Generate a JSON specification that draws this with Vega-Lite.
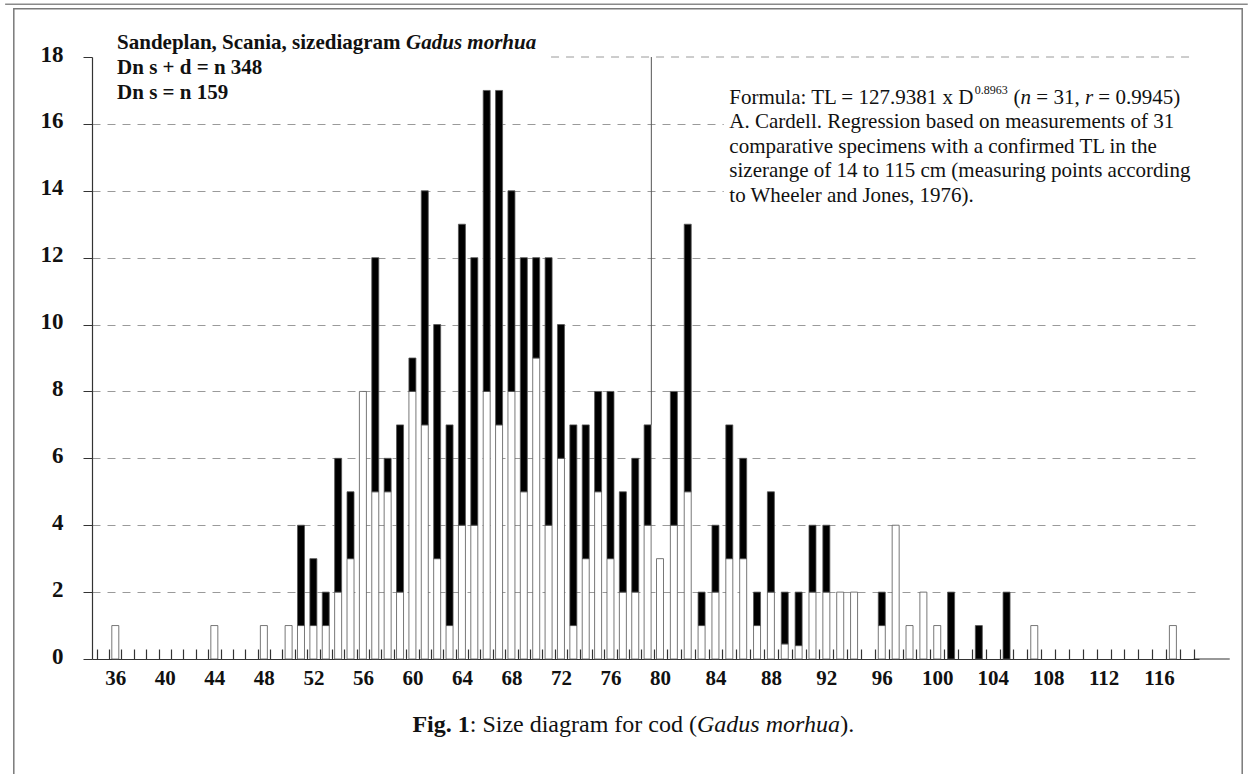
{
  "$schema": "https://vega.github.io/schema/vega-lite/v6.json",
  "width": 1107,
  "height": 602,
  "autosize": {"type": "none"},
  "padding": {"left": 92, "top": 57, "right": 53, "bottom": 115},
  "background": "white",
  "config": {"view": {"stroke": null}, "font": "Liberation Serif"},
  "datasets": {
    "cod": [
      {"size": 36, "type": "s", "count": 1},
      {"size": 44, "type": "s", "count": 1},
      {"size": 48, "type": "s", "count": 1},
      {"size": 50, "type": "s", "count": 1},
      {"size": 51, "type": "s", "count": 1}, {"size": 51, "type": "d", "count": 3},
      {"size": 52, "type": "s", "count": 1}, {"size": 52, "type": "d", "count": 2},
      {"size": 53, "type": "s", "count": 1}, {"size": 53, "type": "d", "count": 1},
      {"size": 54, "type": "s", "count": 2}, {"size": 54, "type": "d", "count": 4},
      {"size": 55, "type": "s", "count": 3}, {"size": 55, "type": "d", "count": 2},
      {"size": 56, "type": "s", "count": 8},
      {"size": 57, "type": "s", "count": 5}, {"size": 57, "type": "d", "count": 7},
      {"size": 58, "type": "s", "count": 5}, {"size": 58, "type": "d", "count": 1},
      {"size": 59, "type": "s", "count": 2}, {"size": 59, "type": "d", "count": 5},
      {"size": 60, "type": "s", "count": 8}, {"size": 60, "type": "d", "count": 1},
      {"size": 61, "type": "s", "count": 7}, {"size": 61, "type": "d", "count": 7},
      {"size": 62, "type": "s", "count": 3}, {"size": 62, "type": "d", "count": 7},
      {"size": 63, "type": "s", "count": 1}, {"size": 63, "type": "d", "count": 6},
      {"size": 64, "type": "s", "count": 4}, {"size": 64, "type": "d", "count": 9},
      {"size": 65, "type": "s", "count": 4}, {"size": 65, "type": "d", "count": 8},
      {"size": 66, "type": "s", "count": 8}, {"size": 66, "type": "d", "count": 9},
      {"size": 67, "type": "s", "count": 7}, {"size": 67, "type": "d", "count": 10},
      {"size": 68, "type": "s", "count": 8}, {"size": 68, "type": "d", "count": 6},
      {"size": 69, "type": "s", "count": 5}, {"size": 69, "type": "d", "count": 7},
      {"size": 70, "type": "s", "count": 9}, {"size": 70, "type": "d", "count": 3},
      {"size": 71, "type": "s", "count": 4}, {"size": 71, "type": "d", "count": 8},
      {"size": 72, "type": "s", "count": 6}, {"size": 72, "type": "d", "count": 4},
      {"size": 73, "type": "s", "count": 1}, {"size": 73, "type": "d", "count": 6},
      {"size": 74, "type": "s", "count": 3}, {"size": 74, "type": "d", "count": 4},
      {"size": 75, "type": "s", "count": 5}, {"size": 75, "type": "d", "count": 3},
      {"size": 76, "type": "s", "count": 3}, {"size": 76, "type": "d", "count": 5},
      {"size": 77, "type": "s", "count": 2}, {"size": 77, "type": "d", "count": 3},
      {"size": 78, "type": "s", "count": 2}, {"size": 78, "type": "d", "count": 4},
      {"size": 79, "type": "s", "count": 4}, {"size": 79, "type": "d", "count": 3},
      {"size": 80, "type": "s", "count": 3},
      {"size": 81, "type": "s", "count": 4}, {"size": 81, "type": "d", "count": 4},
      {"size": 82, "type": "s", "count": 5}, {"size": 82, "type": "d", "count": 8},
      {"size": 83, "type": "s", "count": 1}, {"size": 83, "type": "d", "count": 1},
      {"size": 84, "type": "s", "count": 2}, {"size": 84, "type": "d", "count": 2},
      {"size": 85, "type": "s", "count": 3}, {"size": 85, "type": "d", "count": 4},
      {"size": 86, "type": "s", "count": 3}, {"size": 86, "type": "d", "count": 3},
      {"size": 87, "type": "s", "count": 1}, {"size": 87, "type": "d", "count": 1},
      {"size": 88, "type": "s", "count": 2}, {"size": 88, "type": "d", "count": 3},
      {"size": 89, "type": "s", "count": 0.45}, {"size": 89, "type": "d", "count": 1.55},
      {"size": 90, "type": "s", "count": 0.4}, {"size": 90, "type": "d", "count": 1.6},
      {"size": 91, "type": "s", "count": 2}, {"size": 91, "type": "d", "count": 2},
      {"size": 92, "type": "s", "count": 2}, {"size": 92, "type": "d", "count": 2},
      {"size": 93, "type": "s", "count": 2},
      {"size": 94, "type": "s", "count": 2},
      {"size": 96, "type": "s", "count": 1}, {"size": 96, "type": "d", "count": 1},
      {"size": 97, "type": "s", "count": 4},
      {"size": 98, "type": "s", "count": 1},
      {"size": 99, "type": "s", "count": 2},
      {"size": 100, "type": "s", "count": 1},
      {"size": 101, "type": "d", "count": 2},
      {"size": 103, "type": "d", "count": 1},
      {"size": 105, "type": "d", "count": 2},
      {"size": 107, "type": "s", "count": 1},
      {"size": 117, "type": "s", "count": 1}
    ]
  },
  "resolve": {"scale": {"x": "shared", "y": "shared"}, "axis": {"x": "independent"}},
  "layer": [
    {
      "data": {"values": [{}]},
      "mark": {"type": "rect", "fill": null, "stroke": "#7a7a7a", "strokeWidth": 1.5, "clip": false},
      "encoding": {
        "x": {"datum": 27.8, "type": "quantitative", "axis": null},
        "x2": {"datum": 122},
        "y": {"datum": 19.44, "type": "quantitative"},
        "y2": {"datum": -4}
      }
    },
    {
      "data": {"values": [{}]},
      "mark": {"type": "rule", "color": "#8a8a8a", "strokeWidth": 1.5},
      "encoding": {
        "x": {"datum": 27.1, "type": "quantitative", "axis": null},
        "x2": {"datum": 122.4},
        "y": {"datum": 19.58, "type": "quantitative"}
      }
    },
    {
      "data": {"name": "cod"},
      "mark": {"type": "bar", "width": 7, "stroke": "#555", "strokeWidth": 0.8},
      "encoding": {
        "x": {
          "field": "size",
          "type": "quantitative",
          "scale": {"domain": [34.5, 80, 118.5], "range": [0, 568, 1107], "nice": false, "zero": false},
          "axis": {
            "orient": "top",
            "offset": -602,
            "title": null,
            "grid": false,
            "labels": false,
            "domain": false,
            "values": [34.5, 35.5, 36.5, 37.5, 38.5, 39.5, 40.5, 41.5, 42.5, 43.5, 44.5, 45.5, 46.5, 47.5, 48.5, 49.5, 50.5, 51.5, 52.5, 53.5, 54.5, 55.5, 56.5, 57.5, 58.5, 59.5, 60.5, 61.5, 62.5, 63.5, 64.5, 65.5, 66.5, 67.5, 68.5, 69.5, 70.5, 71.5, 72.5, 73.5, 74.5, 75.5, 76.5, 77.5, 78.5, 79.5, 80.5, 81.5, 82.5, 83.5, 84.5, 85.5, 86.5, 87.5, 88.5, 89.5, 90.5, 91.5, 92.5, 93.5, 94.5, 95.5, 96.5, 97.5, 98.5, 99.5, 100.5, 101.5, 102.5, 103.5, 104.5, 105.5, 106.5, 107.5, 108.5, 109.5, 110.5, 111.5, 112.5, 113.5, 114.5, 115.5, 116.5, 117.5, 118.5],
            "tickSize": 10,
            "tickColor": "#333",
            "tickWidth": 1.2
          }
        },
        "y": {
          "field": "count",
          "type": "quantitative",
          "stack": "zero",
          "scale": {"domain": [0, 18], "nice": false},
          "axis": {
            "title": null,
            "values": [0, 1, 2, 3, 4, 5, 6, 7, 8, 9, 10, 11, 12, 13, 14, 15, 16, 17, 18],
            "labelExpr": "datum.value % 2 == 0 ? datum.label : ''",
            "labelPadding": 20,
            "labelFont": "Liberation Serif",
            "labelFontWeight": "bold",
            "labelFontSize": 23,
            "labelColor": "#111",
            "labelOverlap": false,
            "labelOffset": -3,
            "tickSize": 9,
            "tickColor": "#333",
            "domainColor": "#333",
            "domainWidth": 1.2,
            "grid": true,
            "gridColor": "#9a9a9a",
            "gridDash": [8, 7],
            "gridOpacity": {"condition": {"test": "datum.value % 2 == 0 && datum.value > 0 && datum.value < 18", "value": 1}, "value": 0}
          }
        },
        "color": {"field": "type", "type": "nominal", "scale": {"domain": ["s", "d"], "range": ["white", "black"]}, "legend": null},
        "order": {"field": "type", "sort": "descending"}
      }
    },
    {
      "data": {"values": [{}]},
      "mark": {"type": "rule", "color": "#333", "strokeWidth": 1.2},
      "encoding": {
        "x": {
          "datum": 118.5,
          "type": "quantitative",
          "axis": {
            "orient": "bottom",
            "title": null,
            "grid": false,
            "ticks": false,
            "domain": true,
            "domainColor": "#333",
            "domainWidth": 1.2,
            "values": [36, 40, 44, 48, 52, 56, 60, 64, 68, 72, 76, 80, 84, 88, 92, 96, 100, 104, 108, 112, 116],
            "labelPadding": 8,
            "labelFont": "Liberation Serif",
            "labelFontWeight": "bold",
            "labelFontSize": 21,
            "labelColor": "#111",
            "labelOverlap": false,
            "labelFlush": false,
            "labelBound": false
          }
        },
        "x2": {"datum": 121.1},
        "y": {"datum": 0, "type": "quantitative"}
      }
    },
    {
      "data": {"values": [{}]},
      "mark": {"type": "rule", "color": "#9a9a9a", "strokeDash": [8, 7], "strokeWidth": 1},
      "encoding": {
        "x": {"datum": 71.2, "type": "quantitative", "axis": null},
        "x2": {"datum": 118.5},
        "y": {"datum": 18, "type": "quantitative"}
      }
    },
    {
      "data": {"values": [{}]},
      "mark": {"type": "rule", "color": "#555", "strokeWidth": 1},
      "encoding": {
        "x": {"datum": 79.3, "type": "quantitative", "axis": null},
        "y": {"datum": 7, "type": "quantitative"},
        "y2": {"datum": 18}
      }
    },
    {
      "data": {"values": [{}]},
      "mark": {"type": "rect", "fill": "white", "stroke": null},
      "encoding": {
        "x": {"datum": 84.6, "type": "quantitative", "axis": null},
        "x2": {"datum": 119},
        "y": {"datum": 17.15, "type": "quantitative"},
        "y2": {"datum": 13.4}
      }
    },
    {
      "data": {"values": [{}]},
      "mark": {"type": "text", "text": "Sandeplan, Scania, sizediagram", "font": "Liberation Serif", "fontWeight": "bold", "fontSize": 21, "align": "left", "baseline": "middle", "color": "#111"},
      "encoding": {"x": {"datum": 36.14, "type": "quantitative", "axis": null}, "y": {"datum": 18.42, "type": "quantitative"}}
    },
    {
      "data": {"values": [{}]},
      "mark": {"type": "text", "text": "Gadus morhua", "font": "Liberation Serif", "fontWeight": "bold", "fontStyle": "italic", "fontSize": 21, "align": "left", "baseline": "middle", "dx": 289, "color": "#111"},
      "encoding": {"x": {"datum": 36.14, "type": "quantitative", "axis": null}, "y": {"datum": 18.42, "type": "quantitative"}}
    },
    {
      "data": {"values": [{}]},
      "mark": {"type": "text", "text": ["Dn s + d = n 348", "Dn s = n 159"], "lineHeight": 25, "font": "Liberation Serif", "fontWeight": "bold", "fontSize": 21, "align": "left", "baseline": "middle", "color": "#111"},
      "encoding": {"x": {"datum": 36.14, "type": "quantitative", "axis": null}, "y": {"datum": 17.67, "type": "quantitative"}}
    },
    {
      "data": {"values": [{}]},
      "mark": {"type": "text", "text": "Formula: TL = 127.9381 x D", "font": "Liberation Serif", "fontSize": 21, "align": "left", "baseline": "middle", "color": "#111"},
      "encoding": {"x": {"datum": 85, "type": "quantitative", "axis": null}, "y": {"datum": 16.78, "type": "quantitative"}}
    },
    {
      "data": {"values": [{}]},
      "mark": {"type": "text", "text": "0.8963", "font": "Liberation Serif", "fontSize": 12, "align": "left", "baseline": "middle", "dx": 245.5, "dy": -8, "color": "#111"},
      "encoding": {"x": {"datum": 85, "type": "quantitative", "axis": null}, "y": {"datum": 16.78, "type": "quantitative"}}
    },
    {
      "data": {"values": [{}]},
      "mark": {"type": "text", "text": "(", "font": "Liberation Serif", "fontSize": 21, "align": "left", "baseline": "middle", "dx": 284.3, "color": "#111"},
      "encoding": {"x": {"datum": 85, "type": "quantitative", "axis": null}, "y": {"datum": 16.78, "type": "quantitative"}}
    },
    {
      "data": {"values": [{}]},
      "mark": {"type": "text", "text": "n", "font": "Liberation Serif", "fontStyle": "italic", "fontSize": 21, "align": "left", "baseline": "middle", "dx": 291.3, "color": "#111"},
      "encoding": {"x": {"datum": 85, "type": "quantitative", "axis": null}, "y": {"datum": 16.78, "type": "quantitative"}}
    },
    {
      "data": {"values": [{}]},
      "mark": {"type": "text", "text": "= 31,", "font": "Liberation Serif", "fontSize": 21, "align": "left", "baseline": "middle", "dx": 307, "color": "#111"},
      "encoding": {"x": {"datum": 85, "type": "quantitative", "axis": null}, "y": {"datum": 16.78, "type": "quantitative"}}
    },
    {
      "data": {"values": [{}]},
      "mark": {"type": "text", "text": "r", "font": "Liberation Serif", "fontStyle": "italic", "fontSize": 21, "align": "left", "baseline": "middle", "dx": 355.6, "color": "#111"},
      "encoding": {"x": {"datum": 85, "type": "quantitative", "axis": null}, "y": {"datum": 16.78, "type": "quantitative"}}
    },
    {
      "data": {"values": [{}]},
      "mark": {"type": "text", "text": "= 0.9945)", "font": "Liberation Serif", "fontSize": 21, "align": "left", "baseline": "middle", "dx": 369, "color": "#111"},
      "encoding": {"x": {"datum": 85, "type": "quantitative", "axis": null}, "y": {"datum": 16.78, "type": "quantitative"}}
    },
    {
      "data": {"values": [{}]},
      "mark": {"type": "text", "text": ["A. Cardell. Regression based on measurements of 31", "comparative specimens with a confirmed TL in the", "sizerange of 14 to 115 cm (measuring points according", "to Wheeler and Jones, 1976)."], "lineHeight": 24.7, "font": "Liberation Serif", "fontSize": 21, "align": "left", "baseline": "middle", "color": "#111"},
      "encoding": {"x": {"datum": 85, "type": "quantitative", "axis": null}, "y": {"datum": 16.06, "type": "quantitative"}}
    },
    {
      "data": {"values": [{}]},
      "mark": {"type": "text", "text": "Fig. 1", "font": "Liberation Serif", "fontWeight": "bold", "fontSize": 24, "align": "left", "baseline": "middle", "color": "#111"},
      "encoding": {"x": {"datum": 60, "type": "quantitative", "axis": null}, "y": {"datum": -1.97, "type": "quantitative"}}
    },
    {
      "data": {"values": [{}]},
      "mark": {"type": "text", "text": ": Size diagram for cod (", "font": "Liberation Serif", "fontSize": 24, "align": "left", "baseline": "middle", "dx": 57.3, "color": "#111"},
      "encoding": {"x": {"datum": 60, "type": "quantitative", "axis": null}, "y": {"datum": -1.97, "type": "quantitative"}}
    },
    {
      "data": {"values": [{}]},
      "mark": {"type": "text", "text": "Gadus morhua", "font": "Liberation Serif", "fontStyle": "italic", "fontSize": 24, "align": "left", "baseline": "middle", "dx": 284.6, "color": "#111"},
      "encoding": {"x": {"datum": 60, "type": "quantitative", "axis": null}, "y": {"datum": -1.97, "type": "quantitative"}}
    },
    {
      "data": {"values": [{}]},
      "mark": {"type": "text", "text": ").", "font": "Liberation Serif", "fontSize": 24, "align": "left", "baseline": "middle", "dx": 427.9, "color": "#111"},
      "encoding": {"x": {"datum": 60, "type": "quantitative", "axis": null}, "y": {"datum": -1.97, "type": "quantitative"}}
    }
  ]
}
